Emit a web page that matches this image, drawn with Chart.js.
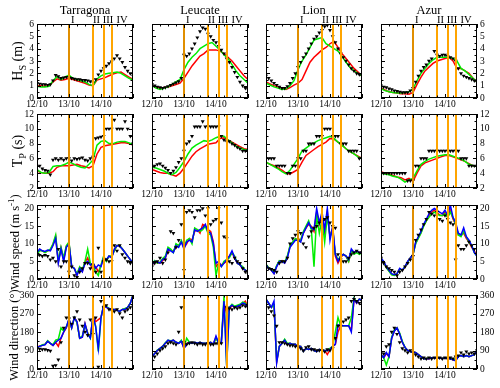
<!DOCTYPE html>
<html><head><meta charset="utf-8">
<script src="https://cdn.jsdelivr.net/npm/chart.js@4/dist/chart.umd.min.js"></script>
<style>
html,body{margin:0;padding:0;background:#fff;}
body{width:500px;height:388px;overflow:hidden;position:relative;font-family:"Liberation Serif","Times New Roman",serif;color:#000;}
canvas{position:absolute;}
.t{position:absolute;white-space:nowrap;line-height:1;}
.rot{position:absolute;white-space:nowrap;line-height:1;transform:translate(-50%,-50%) rotate(-90deg);}
sub,sup{font-size:72%;line-height:0;}
</style></head><body>
<script>
// ---------- categories / ticks ----------
const stations = ["Tarragona","Leucate","Lion","Azur"];
const stationKeys = ["TAR","LEU","LIO","AZU"];
const xTickValues = [0,1,2];
const xTickLabels = ["12/10","13/10","14/10"];
const eventDays = [1.0,1.75,2.08,2.33];
const eventLabels = ["I","II","III","IV"];
const eventLabelDays = [1.12,1.86,2.22,2.66];
const hsTicks = [0,1,2,3,4,5,6];
const tpTicks = [2,4,6,8,10,12];
const wsTicks = [0,5,10,15,20];
const wdTicks = [0,90,180,270,360];
// time in hours since 12/10 00:00
const hours3 = [0,3,6,9,12,15,18,21,24,27,30,33,36,39,42,45,48,51,54,57,60,63,66,69,72];
const hours2 = [0,2,4,6,8,10,12,14,16,18,20,22,24,26,28,30,32,34,36,38,40,42,44,46,48,50,52,54,56,58,60,62,64,66,68,70,72];

// ---------- Hs (m) : models at hours3, obs at hours2 ----------
const hsRedTAR   = [1.0,1.0,0.95,1.0,1.3,1.55,1.45,1.5,1.6,1.5,1.4,1.3,1.2,1.05,1.0,1.45,1.55,1.65,1.8,1.95,2.05,2.1,1.9,1.7,1.5];
const hsGreenTAR = [0.95,0.9,0.9,0.95,1.4,1.75,1.5,1.7,1.85,1.6,1.5,1.4,1.3,1.1,1.0,1.55,1.8,1.95,2.0,2.05,2.1,2.0,1.8,1.6,1.45];
const hsObsTAR   = [1.2,1.15,1.1,1.1,1.05,1.1,1.4,1.85,1.75,1.6,1.65,1.7,1.65,1.6,1.55,1.5,1.5,1.45,1.45,1.4,1.35,1.25,1.5,1.9,2.2,2.4,2.6,2.8,2.95,3.2,3.45,3.2,2.9,2.5,2.2,2.0,1.8];
const hsRedLEU   = [1.0,0.9,0.8,0.85,0.9,1.0,1.1,1.2,1.6,2.1,2.6,3.0,3.4,3.6,3.9,3.9,3.9,3.8,3.6,3.3,3.0,2.6,2.2,1.8,1.5];
const hsGreenLEU = [1.0,0.8,0.7,0.8,0.9,1.1,1.3,1.5,2.3,2.9,3.3,3.6,4.0,4.2,4.4,4.5,4.2,3.9,3.5,3.2,2.7,2.2,1.8,1.5,1.2];
const hsObsLEU   = [1.1,1.0,0.9,0.85,0.8,0.85,0.95,1.05,1.15,1.25,1.35,1.6,3.5,3.4,3.6,4.0,4.4,4.9,5.4,5.7,5.6,5.2,5.0,4.7,4.5,4.2,3.9,3.6,3.2,2.9,2.5,2.1,1.7,1.3,1.0,0.8,0.7];
const hsRedLIO   = [1.3,1.15,1.0,0.9,0.8,0.7,0.85,1.05,1.2,1.5,2.2,2.9,3.3,3.6,3.9,4.1,4.4,4.6,4.1,3.6,3.2,2.8,2.4,2.1,1.8];
const hsGreenLIO = [1.2,1.05,0.9,0.8,0.7,0.75,1.0,1.4,2.3,3.0,3.5,4.1,4.7,4.8,4.9,4.4,4.2,4.0,3.8,3.4,2.9,2.5,2.2,2.0,1.8];
const hsObsLIO   = [1.8,1.6,1.4,1.2,1.05,0.9,0.8,0.8,0.95,1.2,1.6,2.0,2.5,2.9,3.3,3.6,4.0,4.4,4.8,5.0,5.3,5.5,5.8,5.9,5.5,5.0,4.5,4.0,3.6,3.3,3.0,2.7,2.4,2.2,2.0,1.9,1.8];
const hsRedAZU   = [0.8,0.65,0.5,0.45,0.4,0.35,0.35,0.3,0.45,1.1,1.7,2.2,2.5,2.8,3.0,3.1,3.2,3.3,3.0,2.4,2.4,2.2,2.0,1.6,1.3];
const hsGreenAZU = [0.75,0.6,0.5,0.45,0.4,0.4,0.45,0.5,0.75,1.4,2.0,2.4,2.8,3.1,3.3,3.3,3.3,3.3,3.2,3.0,2.4,2.2,1.9,1.6,1.3];
const hsObsAZU   = [1.0,0.9,0.85,0.75,0.7,0.6,0.55,0.5,0.45,0.45,0.45,0.6,0.8,1.3,1.8,2.2,2.5,2.7,3.0,3.2,3.8,3.5,3.4,3.5,3.5,3.4,3.3,3.2,3.0,2.4,2.0,1.8,1.7,1.6,1.5,1.4,1.3];

// ---------- Tp (s) ----------
const tpRedTAR   = [4.3,4.1,4.0,4.0,4.2,4.8,5.0,5.0,5.0,5.1,5.2,5.0,4.9,4.7,5.0,6.6,7.5,7.7,7.8,7.9,8.0,8.1,8.1,8.0,7.8];
const tpGreenTAR = [4.5,4.1,4.0,4.1,4.9,5.0,5.0,5.2,5.5,5.3,5.0,4.8,4.7,5.2,5.8,7.8,8.3,8.4,8.0,8.0,8.2,8.3,8.3,8.1,7.9];
const tpObsTAR   = [5.8,5.0,4.6,4.4,4.3,3.8,5.8,6.0,5.8,6.0,5.8,6.0,6.0,5.7,6.0,5.9,6.0,6.1,5.8,5.7,6.0,6.2,8.7,8.8,8.9,9.0,10.0,10.0,10.0,11.2,10.0,10.0,10.0,11.0,10.0,9.0,8.0];
const tpRedLEU   = [4.5,4.3,4.1,4.0,4.0,3.8,3.6,4.0,4.7,5.5,6.3,6.9,7.3,7.6,7.9,8.0,8.1,8.7,8.8,8.5,8.2,7.9,7.6,7.3,7.2];
const tpGreenLEU = [4.8,4.7,4.5,4.3,4.0,3.8,4.1,4.8,5.6,6.6,7.4,7.8,8.1,8.4,8.3,8.5,8.8,9.0,9.0,8.5,8.1,7.7,7.4,7.2,7.1];
const tpObsLEU   = [4.8,5.0,5.2,5.3,5.0,4.7,4.4,4.0,4.3,4.8,5.5,6.0,7.0,8.0,8.3,9.0,10.3,10.3,10.3,11.0,10.3,10.3,10.3,10.3,10.3,10.3,9.0,8.5,8.3,8.3,8.0,7.8,7.5,7.3,7.0,7.0,7.0];
const tpRedLIO   = [5.5,5.2,5.0,4.7,4.4,4.0,3.9,4.2,4.5,5.5,6.4,6.8,7.2,7.6,7.9,8.2,8.7,8.6,8.2,7.8,7.3,6.9,6.6,6.3,6.0];
const tpGreenLIO = [5.5,5.2,4.9,4.6,4.2,3.9,4.4,5.2,6.0,7.0,7.4,7.8,8.1,8.4,8.6,8.8,9.0,8.7,8.2,7.8,7.3,6.9,6.6,6.2,6.0];
const tpObsLIO   = [6,6,6,6,5,5,5,5,4,4,5,5,6,6,7,7,8,8,8,9,9,9,10,10,10,9,9,9,8,8,8,7,7,7,7,6,6];
const tpRedAZU   = [4.2,4.0,3.9,3.7,3.5,3.4,3.1,3.3,2.9,4.0,5.0,5.4,5.6,5.8,6.0,6.2,6.4,6.4,6.2,6.0,5.8,5.6,5.3,5.0,4.9];
const tpGreenAZU = [4.0,3.9,3.8,3.6,3.5,3.2,2.8,3.1,3.3,4.3,5.2,5.6,5.9,6.1,6.3,6.4,6.5,6.5,6.3,6.1,5.9,5.6,5.2,5.0,4.9];
const tpObsAZU   = [4,4,4,4,4,4,4,4,4,4,3,3,3,5,5,6,6,6,7,7,7,7,7,7,7,7,7,7,7,7,6,6,6,5,5,5,4];

// ---------- Wind speed (m/s) : all at hours2 ----------
const wsRedTAR   = [7.2,8.2,8.0,7.6,8.0,8.2,9.8,12.0,4.8,8.8,5.5,9.2,10.0,3.5,3.0,1.2,3.2,2.2,4.8,6.0,4.2,2.5,3.5,2.0,3.8,6.2,5.2,6.5,6.2,8.2,9.5,9.4,8.5,7.5,6.5,5.5,4.5];
const wsGreenTAR = [7.0,8.0,8.0,7.5,8.0,8.5,10.0,12.5,5.0,9.0,6.0,9.5,10.5,3.5,3.0,1.5,3.5,2.5,5.0,8.5,4.5,3.5,2.0,1.0,4.0,6.5,5.0,6.5,6.5,8.0,9.5,9.5,8.5,7.5,6.5,5.5,4.5];
const wsBlueTAR  = [7.5,8.5,8.0,7.8,8.2,8.0,9.5,11.5,4.5,8.5,5.0,9.0,10.0,3.5,3.0,1.0,3.0,2.0,4.5,5.0,4.0,4.5,3.0,4.0,3.5,6.0,5.5,6.5,6.0,8.5,9.5,9.3,8.5,7.5,6.5,5.5,4.5];
const wsObsTAR   = [6.5,6.8,6.5,6.8,6.5,5.5,6.0,5.0,8.5,3.5,5.0,5.0,2.0,3.5,1.0,0.5,2.0,3.0,4.5,4.5,3.0,4.0,2.0,8.8,2.0,5.0,5.5,5.0,5.0,9.5,8.0,9.5,7.0,6.0,5.0,4.5,4.5];
const wsRedLEU   = [4.0,4.8,4.6,4.5,5.2,6.0,8.0,8.2,7.8,9.0,9.5,10.5,9.0,10.0,11.5,11.0,13.5,14.0,13.0,15.5,15.0,14.0,13.5,10.5,3.5,4.5,4.0,4.5,5.0,6.5,7.5,6.0,4.5,4.0,3.0,2.5,2.0];
const wsGreenLEU = [4.2,5.2,4.5,4.8,5.8,6.5,9.0,8.5,7.5,10.0,9.5,11.0,9.0,11.0,11.5,10.0,14.5,14.0,13.5,14.0,15.0,13.0,12.5,9.0,1.0,4.5,3.5,5.0,5.5,6.0,7.5,6.5,4.5,4.0,3.5,2.5,2.0];
const wsBlueLEU  = [4.0,5.0,4.8,4.5,5.5,6.0,8.5,8.0,7.5,9.5,9.0,10.5,8.5,10.5,11.0,10.5,14.0,13.5,14.0,14.5,15.5,13.5,13.0,10.0,4.5,5.0,3.5,4.5,5.5,6.5,8.0,6.0,4.5,4.0,3.0,2.5,2.0];
const wsObsLEU   = [3.5,4.5,5.0,6.0,4.5,5.5,7.5,13.5,13.0,9.0,11.0,15.5,2.5,19.0,19.5,19.0,17.5,19.5,19.5,20.0,18.0,20.0,15.5,16.5,17.0,20.0,16.0,12.0,11.5,5.0,4.5,6.0,5.0,4.5,3.0,2.0,1.5];
const wsRedLIO   = [4.0,3.2,2.6,1.6,3.6,5.0,5.2,4.6,6.2,9.2,10.2,11.2,11.5,11.0,13.0,14.5,15.5,15.0,13.5,19.0,15.5,18.0,13.0,19.0,12.0,14.5,6.5,4.5,6.0,7.0,6.5,5.0,8.0,7.5,8.0,7.5,7.5];
const wsGreenLIO = [4.2,3.2,2.8,1.8,3.8,5.2,5.0,4.8,6.5,9.5,10.5,11.5,11.0,11.0,13.5,15.0,16.5,14.0,3.5,18.0,13.0,17.0,10.5,18.0,12.0,14.0,7.0,5.5,6.5,7.0,6.5,5.0,8.0,7.0,7.5,7.0,7.5];
const wsBlueLIO  = [4.0,3.0,2.5,1.5,3.5,5.0,5.0,4.5,6.0,9.0,10.0,11.0,11.0,10.5,13.0,14.5,16.0,14.5,14.0,20.0,16.0,19.0,14.0,20.0,11.0,15.0,7.0,5.0,6.5,7.0,6.5,5.5,8.5,7.5,8.0,7.5,7.5];
const wsObsLIO   = [3.5,3.0,2.8,2.5,2.0,4.5,5.0,5.0,6.0,10.0,11.5,12.5,13.5,13.0,10.0,9.0,12.0,13.5,14.5,15.0,16.0,16.5,17.0,17.5,16.0,15.0,14.5,7.0,5.5,5.0,5.0,6.0,7.0,7.5,8.0,7.5,7.5];
const wsRedAZU   = [6.0,4.8,3.3,2.3,1.3,1.1,1.5,2.8,2.5,3.4,4.9,6.0,7.0,10.2,11.8,13.2,15.2,16.5,18.0,19.0,19.5,18.8,18.2,18.0,19.0,17.5,19.5,17.0,15.5,12.5,12.5,13.0,11.5,10.5,9.0,8.0,6.5];
const wsGreenAZU = [6.0,4.8,3.2,2.2,1.2,1.0,1.5,2.8,2.5,3.5,4.8,6.0,7.0,10.0,11.5,13.0,15.0,16.5,17.5,18.5,19.0,18.5,18.0,18.0,18.5,17.5,19.0,17.5,15.5,12.5,12.0,13.5,12.0,10.5,9.5,7.5,6.5];
const wsBlueAZU  = [6.0,5.0,3.5,2.5,1.5,1.2,1.5,3.0,2.5,3.5,5.0,6.0,7.0,10.5,12.0,13.5,15.5,17.0,18.5,19.5,20.0,19.5,19.0,18.5,19.5,18.0,21.0,17.5,16.0,13.0,12.5,14.5,12.0,11.0,9.5,7.5,6.5];
const wsObsAZU   = [6.0,4.5,3.5,3.0,2.5,2.0,1.0,2.0,2.5,3.5,4.5,5.5,6.5,11.0,12.5,14.0,15.5,17.0,19.0,18.5,18.0,19.0,17.0,16.5,18.0,17.0,16.0,15.5,5.5,9.5,8.5,8.5,9.5,10.5,9.5,8.5,8.5];

// ---------- Wind direction (deg) : all at hours2 ----------
const wdRedTAR   = [105,112,115,120,135,125,115,130,110,150,180,200,240,200,250,230,150,155,220,175,155,255,230,240,250,310,300,295,290,290,285,280,290,290,300,320,360];
const wdGreenTAR = [105,110,118,120,138,125,118,140,145,200,185,205,240,200,250,225,150,160,215,175,150,250,210,85,250,310,305,295,290,290,285,280,290,295,300,320,360];
const wdBlueTAR  = [105,110,115,118,135,125,115,130,140,150,180,205,245,200,250,230,150,155,220,170,150,260,205,100,250,310,300,295,290,290,285,280,290,290,300,320,360];
const wdObsTAR   = [100,98,95,95,92,88,15,18,45,130,200,250,245,220,250,280,240,210,180,165,240,170,250,10,330,300,310,290,285,280,290,270,250,280,290,300,310];
const wdRedLEU   = [60,75,90,100,112,125,138,135,140,130,125,135,100,125,130,125,130,125,130,125,125,125,130,120,155,125,130,320,270,290,310,300,305,310,320,330,300];
const wdGreenLEU = [60,75,92,100,110,128,140,138,140,130,125,140,105,150,130,125,130,125,130,125,125,125,130,120,150,125,130,355,20,300,315,305,310,315,325,320,300];
const wdBlueLEU  = [60,75,90,100,110,125,140,135,140,130,125,135,100,120,130,125,130,125,130,125,125,125,130,120,160,125,130,330,15,300,310,300,305,310,320,315,300];
const wdObsLEU   = [40,60,75,90,100,110,125,130,125,120,180,300,130,120,125,130,125,120,125,120,120,125,120,120,125,120,125,null,300,295,290,300,295,300,310,305,300];
const wdRedLIO   = [340,320,300,310,35,110,125,140,120,125,120,120,105,110,85,100,95,100,90,85,95,90,90,70,95,110,120,180,210,210,210,210,190,340,320,340,335];
const wdGreenLIO = [340,320,300,310,40,110,125,145,125,125,120,120,105,110,85,100,95,100,90,85,95,90,90,90,100,110,180,250,210,210,210,210,250,345,325,340,335];
const wdBlueLIO  = [340,320,300,330,30,110,125,140,120,125,120,120,105,110,85,100,95,100,90,85,95,90,90,90,95,110,120,215,210,210,210,210,180,340,320,340,335];
const wdObsLIO   = [355,300,280,260,210,130,130,125,120,115,115,110,110,100,90,105,110,95,95,90,90,90,85,95,90,100,150,210,210,230,240,250,330,340,330,320,330];
const wdRedAZU   = [70,55,75,60,150,185,200,170,130,105,90,85,80,80,70,60,50,50,50,55,55,50,55,50,55,50,50,45,45,60,65,60,65,60,65,70,90];
const wdGreenAZU = [70,55,20,60,155,190,200,175,135,105,90,85,80,80,70,60,50,50,55,55,55,55,55,50,55,55,50,50,45,60,65,60,65,60,65,70,90];
const wdBlueAZU  = [70,55,80,60,150,185,200,170,130,105,90,85,80,80,70,60,50,50,50,55,55,50,55,50,55,50,50,45,40,60,65,60,65,60,65,70,90];
const wdObsAZU   = [80,75,110,120,180,200,170,130,100,90,80,90,80,70,60,50,55,50,55,50,55,50,55,50,55,50,55,50,60,65,80,70,85,75,80,75,90];

// ---------- layout / style (not data) ----------
const colLeft = [37,152,266,381];
const rowTop = [24,114,205,295];
const plotW = 96, plotH = 74;
const PADL = 30, PADR = 30, PADT = 12, PADB = 14;
const COLORS = {red:'#ff0000', green:'#00ee00', blue:'#0000ff', obs:'#000000', event:'#ffa500'};

const rowSpecs = [
  {key:'hs', min:0, max:6,   tickMax:6,   major:1,  minor:0.5, ticks:hsTicks, lineHours:hours3, blue:false},
  {key:'tp', min:2, max:12,  tickMax:12,  major:2,  minor:1,   ticks:tpTicks, lineHours:hours3, blue:false},
  {key:'ws', min:0, max:21,  tickMax:20,  major:5,  minor:2.5, ticks:wsTicks, lineHours:hours2, blue:true},
  {key:'wd', min:0, max:360, tickMax:360, major:90, minor:45,  ticks:wdTicks, lineHours:hours2, blue:true},
];
const SERIES = {
  hs:{TAR:{red:hsRedTAR,green:hsGreenTAR,obs:hsObsTAR},LEU:{red:hsRedLEU,green:hsGreenLEU,obs:hsObsLEU},LIO:{red:hsRedLIO,green:hsGreenLIO,obs:hsObsLIO},AZU:{red:hsRedAZU,green:hsGreenAZU,obs:hsObsAZU}},
  tp:{TAR:{red:tpRedTAR,green:tpGreenTAR,obs:tpObsTAR},LEU:{red:tpRedLEU,green:tpGreenLEU,obs:tpObsLEU},LIO:{red:tpRedLIO,green:tpGreenLIO,obs:tpObsLIO},AZU:{red:tpRedAZU,green:tpGreenAZU,obs:tpObsAZU}},
  ws:{TAR:{red:wsRedTAR,green:wsGreenTAR,blue:wsBlueTAR,obs:wsObsTAR},LEU:{red:wsRedLEU,green:wsGreenLEU,blue:wsBlueLEU,obs:wsObsLEU},LIO:{red:wsRedLIO,green:wsGreenLIO,blue:wsBlueLIO,obs:wsObsLIO},AZU:{red:wsRedAZU,green:wsGreenAZU,blue:wsBlueAZU,obs:wsObsAZU}},
  wd:{TAR:{red:wdRedTAR,green:wdGreenTAR,blue:wdBlueTAR,obs:wdObsTAR},LEU:{red:wdRedLEU,green:wdGreenLEU,blue:wdBlueLEU,obs:wdObsLEU},LIO:{red:wdRedLIO,green:wdGreenLIO,blue:wdBlueLIO,obs:wdObsLIO},AZU:{red:wdRedAZU,green:wdGreenAZU,blue:wdBlueAZU,obs:wdObsAZU}},
};

function xy(hours, vals){ return hours.map((h,i)=>({x:h/24, y:(vals[i]==null?null:vals[i])})); }

const TICKFONT = '9.5px "Liberation Serif", serif';

function panelPlugin(spec, col){
  return {
    id:'panelFrame',
    afterDatasetsDraw(chart){
      const ctx = chart.ctx, a = chart.chartArea, xs = chart.scales.x, ys = chart.scales.y;
      ctx.save();
      // event lines
      eventDays.forEach((d,i)=>{
        const px = Math.round(xs.getPixelForValue(d));
        ctx.strokeStyle = COLORS.event; ctx.lineWidth = 2;
        ctx.beginPath(); ctx.moveTo(px, a.top); ctx.lineTo(px, a.bottom); ctx.stroke();
        if(i===0){
          ctx.strokeStyle = 'rgba(110,60,0,0.55)'; ctx.lineWidth = 0.8;
          ctx.beginPath(); ctx.moveTo(px, a.top); ctx.lineTo(px, a.bottom); ctx.stroke();
        }
      });
      // frame
      ctx.strokeStyle = '#000'; ctx.lineWidth = 1;
      ctx.strokeRect(a.left+0.5, a.top+0.5, a.right-a.left-1, a.bottom-a.top-1);
      ctx.beginPath();
      // x ticks (inward, every 6 h)
      for(let k=0;k<=12;k++){
        const v = k*0.25;
        const px = Math.round(xs.getPixelForValue(v)) + 0.5;
        const len = (k%4===0) ? 4 : 2.5;
        ctx.moveTo(px, a.bottom); ctx.lineTo(px, a.bottom-len);
        ctx.moveTo(px, a.top); ctx.lineTo(px, a.top+len);
      }
      // y ticks
      const n = Math.round((spec.tickMax-spec.min)/spec.minor);
      for(let k=0;k<=n;k++){
        const v = spec.min + k*spec.minor;
        const r = (v-spec.min)/spec.major;
        const isMaj = Math.abs(r-Math.round(r))<1e-6;
        const py = Math.round(ys.getPixelForValue(v)) + 0.5;
        const len = isMaj ? 4 : 2.5;
        ctx.moveTo(a.left, py); ctx.lineTo(a.left+len, py);
        ctx.moveTo(a.right, py); ctx.lineTo(a.right-len, py);
      }
      ctx.stroke();
      // x tick labels
      ctx.fillStyle = '#000'; ctx.font = TICKFONT;
      ctx.textAlign = 'center'; ctx.textBaseline = 'top';
      xTickValues.forEach((v,i)=>{
        ctx.fillText(xTickLabels[i], xs.getPixelForValue(v), a.bottom+2);
      });
      // y tick labels
      if(col===0 || col===3){
        ctx.textBaseline = 'middle';
        ctx.textAlign = col===0 ? 'right' : 'left';
        spec.ticks.forEach(v=>{
          const py = ys.getPixelForValue(v);
          ctx.fillText(String(v), col===0 ? a.left-3 : a.right+3, py);
        });
      }
      ctx.restore();
    }
  };
}

rowSpecs.forEach((spec, r)=>{
  stationKeys.forEach((sk, c)=>{
    const s = SERIES[spec.key][sk];
    const cv = document.createElement('canvas');
    const W = plotW+PADL+PADR, H = plotH+PADT+PADB;
    cv.width = W; cv.height = H;
    cv.style.left = (colLeft[c]-PADL)+'px';
    cv.style.top = (rowTop[r]-PADT)+'px';
    cv.style.width = W+'px'; cv.style.height = H+'px';
    document.body.appendChild(cv);
    const lw = 1.5;
    const ds = [
      {label:'obs', data:xy(hours2, s.obs), showLine:false, pointStyle:'triangle', rotation:180,
       pointRadius:2.3, pointBackgroundColor:COLORS.obs, pointBorderColor:COLORS.obs, pointBorderWidth:0, borderColor:COLORS.obs},
    ];
    if(spec.blue) ds.push({label:'blue', data:xy(spec.lineHours, s.blue), borderColor:COLORS.blue, borderWidth:lw, pointRadius:0, tension:0, spanGaps:true});
    ds.push({label:'green', data:xy(spec.lineHours, s.green), borderColor:COLORS.green, borderWidth:lw, pointRadius:0, tension:0, spanGaps:true});
    ds.push({label:'red', data:xy(spec.lineHours, s.red), borderColor:COLORS.red, borderWidth:lw, pointRadius:0, tension:0, spanGaps:true});
    new Chart(cv, {
      type:'line',
      data:{datasets:ds},
      options:{
        responsive:false, animation:false, events:[],
        devicePixelRatio:1,
        layout:{padding:{left:PADL,right:PADR,top:PADT,bottom:PADB}},
        plugins:{legend:{display:false}, tooltip:{enabled:false}},
        scales:{
          x:{type:'linear', display:false, min:0, max:3},
          y:{type:'linear', display:false, min:spec.min, max:spec.max}
        }
      },
      plugins:[panelPlugin(spec, c)]
    });
  });
});

// ---------- text ----------
function addText(html, cls, style){
  const d = document.createElement('div');
  d.className = cls; d.innerHTML = html;
  Object.assign(d.style, style);
  document.body.appendChild(d);
  return d;
}
stations.forEach((name,c)=>{
  addText(name, 't', {fontSize:'12.5px', top:'4px', left:(colLeft[c]+plotW/2)+'px', transform:'translateX(-50%)'});
  eventLabels.forEach((lab,i)=>{
    addText(lab, 't', {fontSize:'10.5px', top:'14.5px', left:(colLeft[c]+eventLabelDays[i]*plotW/3)+'px', transform:'translateX(-50%)'});
  });
});
const yTitles = [
  {html:'H<sub>S</sub> (m)', size:'14px', x:18},
  {html:'T<sub>P</sub> (s)', size:'14px', x:18},
  {html:'Wind speed (m s<sup>-1</sup>)', size:'12.5px', x:15},
  {html:'Wind direction (°)', size:'12.5px', x:14},
];
yTitles.forEach((t,r)=>{
  const cy = rowTop[r] + plotH/2 + (r===3 ? 3 : 0);
  addText(t.html, 'rot', {fontSize:t.size, left:t.x+'px', top:cy+'px'});
});
</script>
</body></html>
